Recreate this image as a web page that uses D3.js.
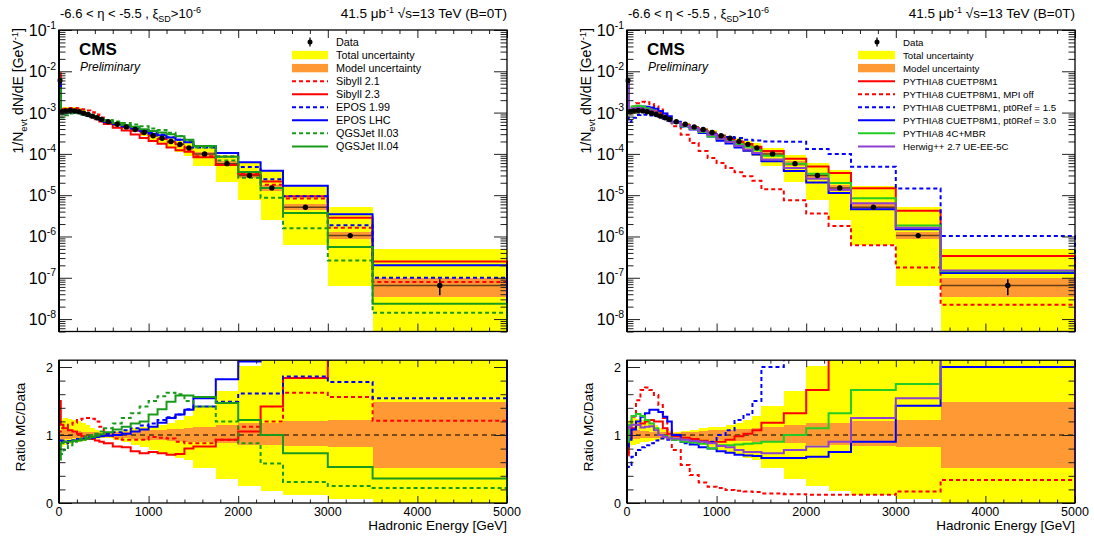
<!DOCTYPE html>
<html><head><meta charset="utf-8">
<script src="https://cdn.jsdelivr.net/npm/d3@7"></script>
<style>body{margin:0;background:#fff}svg{font-family:"Liberation Sans",Arial,Helvetica,sans-serif}</style>
</head><body>
<svg id="chart" width="1094" height="540"></svg>
<script>
// ---------------- DATA ----------------
const binEdges = [0,20,50,100,150,200,250,300,350,400,450,500,600,700,800,900,1000,1100,1200,1300,1400,1500,1750,2000,2250,2500,3000,3500,5000];
const dataValues = [6.0e-3,1.05e-3,1.1e-3,1.12e-3,1.1e-3,1.05e-3,9.7e-4,9.0e-4,8.2e-4,7.5e-4,6.8e-4,6.0e-4,5.2e-4,4.5e-4,3.9e-4,3.3e-4,2.75e-4,2.4e-4,2.0e-4,1.7e-4,1.4e-4,1.0e-4,5.8e-5,3.0e-5,1.5e-5,5.1e-6,1.05e-6,6.5e-8];
const dataStatErr = [0.02,0.01,0.01,0.01,0.01,0.01,0.01,0.01,0.01,0.01,0.01,0.01,0.01,0.01,0.01,0.01,0.01,0.01,0.01,0.01,0.02,0.02,0.02,0.03,0.04,0.06,0.12,0.42];
const totalUncLow  = [0.82,0.83,0.85,0.87,0.89,0.9,0.91,0.92,0.93,0.94,0.95,0.95,0.93,0.9,0.86,0.82,0.78,0.73,0.7,0.66,0.63,0.52,0.35,0.25,0.17,0.12,0.06,0.0];
const totalUncHigh = [1.2,1.22,1.25,1.24,1.22,1.2,1.17,1.14,1.11,1.08,1.06,1.05,1.06,1.08,1.1,1.12,1.12,1.15,1.18,1.22,1.28,1.42,1.64,2.02,2.7,3.2,4.9,7.7];
const modelUncLow  = [0.93,0.93,0.94,0.94,0.95,0.95,0.95,0.96,0.96,0.97,0.97,0.97,0.96,0.95,0.94,0.93,0.92,0.92,0.91,0.91,0.9,0.9,0.88,0.86,0.85,0.84,0.83,0.52];
const modelUncHigh = [1.07,1.07,1.07,1.07,1.06,1.06,1.05,1.05,1.04,1.04,1.03,1.03,1.04,1.05,1.06,1.07,1.08,1.08,1.09,1.09,1.1,1.12,1.15,1.17,1.18,1.2,1.22,1.49];

// MC / Data ratios per bin (left panel: cosmic ray models)
const sibyll21 = [1.05,1.1,1.12,1.15,1.18,1.22,1.24,1.25,1.24,1.2,1.12,1.02,0.95,0.93,0.93,0.93,0.97,0.96,0.95,0.9,0.88,0.88,0.93,1.12,1.2,1.62,1.56,1.21];
const sibyll23 = [1.5,1.15,1.1,1.07,1.05,1.02,0.98,0.95,0.94,0.92,0.9,0.88,0.83,0.82,0.76,0.73,0.75,0.73,0.71,0.72,0.8,0.83,0.93,1.05,1.42,1.84,2.7,3.8];
const epos199  = [0.9,0.9,0.88,0.9,0.92,0.94,0.95,0.97,0.98,0.99,1.0,1.02,1.04,1.07,1.1,1.14,1.17,1.22,1.26,1.3,1.38,1.42,1.49,1.61,1.61,1.86,1.78,1.54];
const eposLHC  = [0.92,0.92,0.9,0.91,0.92,0.93,0.94,0.95,0.96,0.97,0.98,0.99,1.0,1.02,1.05,1.08,1.12,1.18,1.25,1.3,1.37,1.54,1.82,2.08,2.6,3.3,3.3,3.1];
const qgsjet03 = [0.64,0.72,0.78,0.85,0.9,0.94,0.97,0.98,1.0,1.02,1.05,1.1,1.17,1.25,1.32,1.42,1.5,1.57,1.62,1.6,1.5,1.42,1.2,0.88,0.58,0.31,0.25,0.22];
const qgsjet04 = [0.65,0.88,0.9,0.9,0.91,0.92,0.93,0.95,0.97,0.99,1.01,1.04,1.08,1.12,1.17,1.2,1.3,1.38,1.49,1.58,1.58,1.56,1.47,1.22,1.0,0.73,0.53,0.36];
// MC / Data ratios per bin (right panel: PYTHIA8 / Herwig++)
const pyCUETP8M1 = [0.75,0.95,1.1,1.15,1.17,1.2,1.22,1.2,1.2,1.1,1.02,0.98,0.96,0.94,0.92,0.9,0.9,0.93,0.98,1.02,1.07,1.18,1.32,1.66,2.3,2.9,4.0,5.2];
const pyMPIoff   = [0.7,1.0,1.27,1.51,1.66,1.7,1.66,1.59,1.44,1.25,1.07,0.78,0.56,0.41,0.3,0.24,0.22,0.19,0.18,0.17,0.16,0.14,0.13,0.12,0.12,0.12,0.17,0.34];
const pyPt15     = [0.53,0.56,0.68,0.78,0.82,0.85,0.88,0.92,0.95,0.95,0.93,0.93,0.88,0.89,0.9,0.9,1.0,1.07,1.22,1.3,1.5,2.0,3.4,4.4,6.6,9.6,13.8,15.8];
const pyPt30     = [0.83,0.93,1.08,1.2,1.27,1.32,1.37,1.37,1.34,1.27,1.2,1.0,0.9,0.86,0.82,0.8,0.76,0.74,0.71,0.7,0.69,0.66,0.66,0.68,0.75,0.9,1.43,2.0];
const py4CMBR    = [0.9,1.15,1.28,1.31,1.28,1.22,1.17,1.1,1.0,0.98,0.96,0.93,0.9,0.89,0.87,0.8,0.85,0.85,0.86,0.87,0.88,0.9,1.0,1.1,1.32,1.66,1.75,2.2];
const herwig     = [1.1,1.12,1.15,1.15,1.11,1.12,1.13,1.07,1.0,0.97,0.95,0.95,0.93,0.91,0.9,0.88,0.84,0.82,0.78,0.75,0.75,0.73,0.78,0.83,0.9,1.25,1.54,2.3];

const xTicks = [0,1000,2000,3000,4000,5000];
const xTickLabels = ["0","1000","2000","3000","4000","5000"];
const ratioTicks = [0,1,2];
const logExponents = [-1,-2,-3,-4,-5,-6,-7,-8];
const leftNames  = ["Sibyll 2.1","Sibyll 2.3","EPOS 1.99","EPOS LHC","QGSJet II.03","QGSJet II.04"];
const rightNames = ["PYTHIA8 CUETP8M1","PYTHIA8 CUETP8M1, MPI off","PYTHIA8 CUETP8M1, pt0Ref = 1.5","PYTHIA8 CUETP8M1, pt0Ref = 3.0","PYTHIA8 4C+MBR","Herwig++ 2.7 UE-EE-5C"];

// ---------------- LAYOUT ----------------
const TOP_TOP = 30, TOP_BOT = 331.5, R_TOP = 360.2, R_BOT = 503;
const YELLOW = "#ffff00", ORANGE = "#ff9933";
const svg = d3.select("#chart");
const defs = svg.append("defs");

const leftSeries = [
  {ratio: sibyll21, color: "#ff0000", dash: true},
  {ratio: sibyll23, color: "#ff0000", dash: false},
  {ratio: epos199,  color: "#0000ff", dash: true},
  {ratio: eposLHC,  color: "#0000ff", dash: false},
  {ratio: qgsjet03, color: "#1a9a1a", dash: true},
  {ratio: qgsjet04, color: "#1a9a1a", dash: false}
].map((s,i)=>({...s, name: leftNames[i]}));
const rightSeries = [
  {ratio: pyCUETP8M1, color: "#ff0000", dash: false},
  {ratio: pyMPIoff,   color: "#ff0000", dash: true},
  {ratio: pyPt15,     color: "#0000ff", dash: true},
  {ratio: pyPt30,     color: "#0000ff", dash: false},
  {ratio: py4CMBR,    color: "#22cc22", dash: false},
  {ratio: herwig,     color: "#9040d0", dash: false}
].map((s,i)=>({...s, name: rightNames[i]}));

function histPoints(vals, x, y, base) {
  const pts = [[x(binEdges[0]), base]];
  vals.forEach((v, i) => { pts.push([x(binEdges[i]), y(v)]); pts.push([x(binEdges[i+1]), y(v)]); });
  pts.push([x(binEdges[binEdges.length-1]), base]);
  return pts;
}
const line = d3.line();
const safe = v => Math.max(v, 1e-14);

function drawPanel(p) {
  const x = d3.scaleLinear().domain([0, 5000]).range([p.x0, p.x1]);
  const yT = d3.scaleLog().domain([5e-9, 0.1]).range([TOP_BOT, TOP_TOP]);
  const yR = d3.scaleLinear().domain([0, 2.1]).range([R_BOT, R_TOP]);
  const bins = dataValues.map((d, i) => ({e0: binEdges[i], e1: binEdges[i+1], d,
    tLo: totalUncLow[i], tHi: totalUncHigh[i], mLo: modelUncLow[i], mHi: modelUncHigh[i], err: dataStatErr[i]}));

  defs.append("clipPath").attr("id", p.id + "t").append("rect")
    .attr("x", p.x0 - 1.5).attr("y", TOP_TOP).attr("width", p.x1 - p.x0 + 3).attr("height", TOP_BOT - TOP_TOP);
  defs.append("clipPath").attr("id", p.id + "r").append("rect")
    .attr("x", p.x0 - 1.5).attr("y", R_TOP).attr("width", p.x1 - p.x0 + 3).attr("height", R_BOT - R_TOP);

  // ---- top panel ----
  const gt = svg.append("g").attr("clip-path", `url(#${p.id}t)`);
  [["tLo","tHi",YELLOW],["mLo","mHi",ORANGE]].forEach(([lo, hi, col]) => {
    gt.append("g").selectAll("rect").data(bins).join("rect")
      .attr("x", b => x(b.e0)).attr("width", b => x(b.e1) - x(b.e0))
      .attr("y", b => yT(safe(b.d * b[hi])))
      .attr("height", b => yT(safe(b.d * b[lo])) - yT(safe(b.d * b[hi])))
      .attr("fill", col).attr("shape-rendering", "crispEdges");
  });
  gt.append("g").selectAll("line").data(bins).join("line")
    .attr("x1", b => x(b.e0)).attr("x2", b => x(b.e1)).attr("y1", b => yT(b.d)).attr("y2", b => yT(b.d))
    .attr("stroke", "#000").attr("stroke-opacity", 0.6).attr("stroke-width", 1.5);
  p.series.forEach(s => {
    const mc = s.ratio.map((r, i) => r * dataValues[i]);
    gt.append("path").attr("d", line(histPoints(mc, x, yT, TOP_BOT)))
      .attr("fill", "none").attr("stroke", s.color).attr("stroke-width", 2)
      .attr("stroke-dasharray", s.dash ? "4,3" : null);
  });
  gt.append("g").selectAll("line").data(bins).join("line")
    .attr("x1", b => x((b.e0 + b.e1) / 2)).attr("x2", b => x((b.e0 + b.e1) / 2))
    .attr("y1", b => yT(b.d * (1 + b.err))).attr("y2", b => yT(b.d * (1 - b.err)))
    .attr("stroke", "#000").attr("stroke-width", 1.5);
  gt.append("g").selectAll("circle").data(bins).join("circle")
    .attr("cx", b => x((b.e0 + b.e1) / 2)).attr("cy", b => yT(b.d)).attr("r", 2.7).attr("fill", "#000");

  // ---- ratio panel ----
  const gr = svg.append("g").attr("clip-path", `url(#${p.id}r)`);
  [["tLo","tHi",YELLOW],["mLo","mHi",ORANGE]].forEach(([lo, hi, col]) => {
    gr.append("g").selectAll("rect").data(bins).join("rect")
      .attr("x", b => x(b.e0)).attr("width", b => x(b.e1) - x(b.e0))
      .attr("y", b => yR(b[hi])).attr("height", b => yR(b[lo]) - yR(b[hi]))
      .attr("fill", col).attr("shape-rendering", "crispEdges");
  });
  gr.append("line").attr("x1", x(0)).attr("x2", x(5000)).attr("y1", yR(1)).attr("y2", yR(1))
    .attr("stroke", "#000").attr("stroke-width", 1.2).attr("stroke-dasharray", "5,4");
  p.series.forEach(s => {
    gr.append("path").attr("d", line(histPoints(s.ratio, x, yR, R_BOT)))
      .attr("fill", "none").attr("stroke", s.color).attr("stroke-width", 2)
      .attr("stroke-dasharray", s.dash ? "4,3" : null);
  });

  // ---- axes (ticks inside, ROOT style) ----
  const minorX = d3.range(0, 5001, 200).filter(v => v % 1000 !== 0);
  const minorLog = [];
  for (let e = -9; e <= -2; e++) for (let m = 2; m <= 9; m++) { const v = m * Math.pow(10, e); if (v >= 5e-9 && v <= 0.1) minorLog.push(v); }
  const majorLog = logExponents.map(e => Math.pow(10, e));
  const minorR = d3.range(0.2, 2.09, 0.2).filter(v => Math.abs(v - 1) > 0.01 && Math.abs(v - 2) > 0.01);
  const ax = (gen, tx, ty) => {
    const g = svg.append("g").attr("transform", `translate(${tx},${ty})`).call(gen);
    g.select(".domain").remove();
    g.selectAll("line").attr("stroke", "#222").attr("stroke-width", 1);
    return g;
  };
  ax(d3.axisBottom(x).tickValues(xTicks).tickSize(-8).tickFormat(""), 0, TOP_BOT);
  ax(d3.axisBottom(x).tickValues(minorX).tickSize(-4).tickFormat(""), 0, TOP_BOT);
  ax(d3.axisTop(x).tickValues(xTicks).tickSize(-8).tickFormat(""), 0, TOP_TOP);
  ax(d3.axisTop(x).tickValues(minorX).tickSize(-4).tickFormat(""), 0, TOP_TOP);
  ax(d3.axisLeft(yT).tickValues(majorLog).tickSize(-13).tickFormat(""), p.x0, 0);
  ax(d3.axisLeft(yT).tickValues(minorLog).tickSize(-6.5).tickFormat(""), p.x0, 0);
  ax(d3.axisRight(yT).tickValues(majorLog).tickSize(-13).tickFormat(""), p.x1, 0);
  ax(d3.axisRight(yT).tickValues(minorLog).tickSize(-6.5).tickFormat(""), p.x1, 0);
  ax(d3.axisBottom(x).tickValues(xTicks).tickSize(-7).tickFormat(""), 0, R_BOT);
  ax(d3.axisBottom(x).tickValues(minorX).tickSize(-3.5).tickFormat(""), 0, R_BOT);
  ax(d3.axisTop(x).tickValues(xTicks).tickSize(-7).tickFormat(""), 0, R_TOP);
  ax(d3.axisTop(x).tickValues(minorX).tickSize(-3.5).tickFormat(""), 0, R_TOP);
  ax(d3.axisLeft(yR).tickValues(ratioTicks).tickSize(-13).tickFormat(""), p.x0, 0);
  ax(d3.axisLeft(yR).tickValues(minorR).tickSize(-6.5).tickFormat(""), p.x0, 0);
  ax(d3.axisRight(yR).tickValues(ratioTicks).tickSize(-13).tickFormat(""), p.x1, 0);
  ax(d3.axisRight(yR).tickValues(minorR).tickSize(-6.5).tickFormat(""), p.x1, 0);

  [[TOP_TOP, TOP_BOT], [R_TOP, R_BOT]].forEach(([t, b]) => {
    svg.append("rect").attr("x", p.x0).attr("y", t).attr("width", p.x1 - p.x0).attr("height", b - t)
      .attr("fill", "none").attr("stroke", "#000").attr("stroke-width", 1.3);
  });
  svg.append("line").attr("x1", p.x0).attr("x2", p.x0).attr("y1", TOP_TOP).attr("y2", TOP_BOT).attr("stroke", "#000").attr("stroke-width", 2);
  svg.append("line").attr("x1", p.x0).attr("x2", p.x0).attr("y1", R_TOP).attr("y2", R_BOT).attr("stroke", "#000").attr("stroke-width", 2);

  logExponents.forEach(e => {
    const t = svg.append("text").attr("x", p.x0 - 3).attr("y", yT(Math.pow(10, e)) + 6)
      .attr("text-anchor", "end").attr("font-size", 16).attr("fill", "#000");
    t.append("tspan").text("10");
    t.append("tspan").attr("dy", -7.5).attr("font-size", 10.5).text("-" + (-e));
  });
  ratioTicks.forEach(v => {
    svg.append("text").attr("x", p.x0 - 6).attr("y", yR(v) + 4.5).attr("text-anchor", "end")
      .attr("font-size", 12.5).text(String(v));
  });
  xTicks.forEach((v, i) => {
    svg.append("text").attr("x", x(v)).attr("y", 516).attr("text-anchor", "middle")
      .attr("font-size", 12.5).text(xTickLabels[i]);
  });
  svg.append("text").attr("x", p.x1).attr("y", 530).attr("text-anchor", "end").attr("font-size", 13.5).text("Hadronic Energy [GeV]");
  const yl = svg.append("text").attr("transform", `translate(${p.x0 - 36},28) rotate(-90)`)
    .attr("text-anchor", "end").attr("font-size", 14);
  yl.append("tspan").text("1/N");
  yl.append("tspan").attr("dy", 3.5).attr("font-size", 9.5).text("evt");
  yl.append("tspan").attr("dy", -3.5).text(" dN/dE [GeV");
  yl.append("tspan").attr("dy", -5.5).attr("font-size", 9.5).text("-1");
  yl.append("tspan").attr("dy", 5.5).text("]");
  svg.append("text").attr("transform", `translate(${p.x0 - 34.5},${427}) rotate(-90)`)
    .attr("text-anchor", "middle").attr("font-size", 13.5).text("Ratio MC/Data");

  const h1 = svg.append("text").attr("x", p.x0 + 1).attr("y", 18).attr("font-size", 13);
  h1.append("tspan").text("-6.6 < η < -5.5 , ξ");
  h1.append("tspan").attr("dy", 4).attr("font-size", 9).text("SD");
  h1.append("tspan").attr("dy", -4).text(">10");
  h1.append("tspan").attr("dy", -5.5).attr("font-size", 9).text("-6");
  const h2 = svg.append("text").attr("x", p.x1).attr("y", 18).attr("font-size", 13.5).attr("text-anchor", "end");
  h2.append("tspan").text("41.5 μb");
  h2.append("tspan").attr("dy", -5.5).attr("font-size", 9).text("-1");
  h2.append("tspan").attr("dy", 5.5).text(" √s=13 TeV (B=0T)");
  svg.append("text").attr("x", p.x0 + 20).attr("y", 55).attr("font-size", 17).attr("font-weight", "bold").text("CMS");
  svg.append("text").attr("x", p.x0 + 21).attr("y", 71).attr("font-size", 12).attr("font-style", "italic").text("Preliminary");

  const L = p.legend, rowY = i => 42 + i * 13.05;
  const lg = svg.append("g");
  lg.append("line").attr("x1", L.mx).attr("x2", L.mx).attr("y1", rowY(0) - 4.5).attr("y2", rowY(0) + 4.5).attr("stroke", "#000").attr("stroke-width", 1.3);
  lg.append("circle").attr("cx", L.mx).attr("cy", rowY(0)).attr("r", 2.5).attr("fill", "#000");
  lg.append("rect").attr("x", L.s0).attr("y", rowY(1) - 4.2).attr("width", L.s1 - L.s0).attr("height", 8.4).attr("fill", YELLOW);
  lg.append("rect").attr("x", L.s0).attr("y", rowY(2) - 4.2).attr("width", L.s1 - L.s0).attr("height", 8.4).attr("fill", ORANGE);
  p.series.forEach((s, i) => {
    lg.append("line").attr("x1", L.s0).attr("x2", L.s1).attr("y1", rowY(i + 3)).attr("y2", rowY(i + 3))
      .attr("stroke", s.color).attr("stroke-width", 2).attr("stroke-dasharray", s.dash ? "4,3" : null);
  });
  const labels = ["Data", "Total uncertainty", "Model uncertainty"].concat(p.series.map(s => s.name));
  labels.forEach((t, i) => {
    lg.append("text").attr("x", L.t).attr("y", rowY(i) + 3.8).attr("font-size", L.fs).text(t);
  });
}

drawPanel({id: "L", x0: 59, x1: 507, series: leftSeries, legend: {mx: 310, s0: 292, s1: 328, t: 336, fs: 10.8}});
drawPanel({id: "R", x0: 627, x1: 1075, series: rightSeries, legend: {mx: 877, s0: 858, s1: 895, t: 903, fs: 9.7}});
</script>
</body></html>
